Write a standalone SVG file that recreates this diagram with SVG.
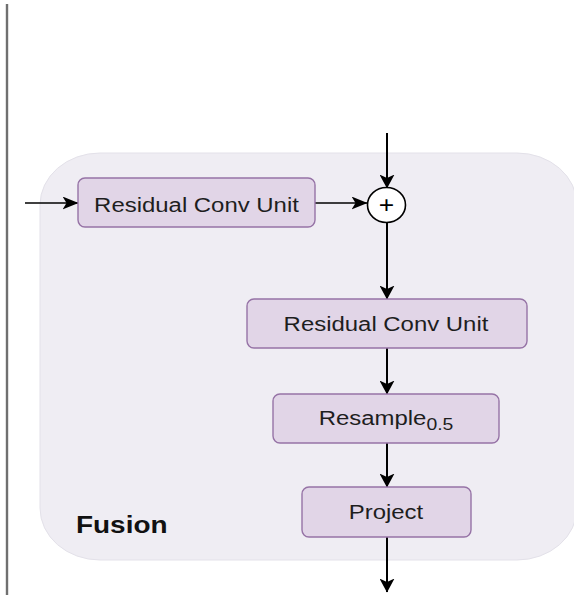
<svg xmlns="http://www.w3.org/2000/svg" width="574" height="597" viewBox="0 0 574 597">
  <style>
    .box { fill: #e1d5e7; stroke: #9673a6; stroke-width: 1.4; }
    .lbl { font-family: "Liberation Sans", Arial, sans-serif; font-size: 21px; fill: #1e1e1e; text-anchor: middle; }
    .eh { stroke: #000; stroke-width: 1.6; fill: none; marker-end: url(#arrowH); }
    .ev { stroke: #000; stroke-width: 2; fill: none; marker-end: url(#arrowV); }
  </style>
  <defs>
    <!-- classic notched arrowheads; horizontal ones a little longer -->
    <marker id="arrowH" viewBox="0 0 16 13" refX="15.5" refY="6.5" markerWidth="16" markerHeight="13" markerUnits="userSpaceOnUse" orient="auto">
      <path d="M0,0 L16,6.5 L0,13 L4,6.5 Z" fill="#000"/>
    </marker>
    <marker id="arrowV" viewBox="0 0 14 15" refX="13.5" refY="7.5" markerWidth="14" markerHeight="15" markerUnits="userSpaceOnUse" orient="auto">
      <path d="M0,0 L14,7.5 L0,15 L3.5,7.5 Z" fill="#000"/>
    </marker>
  </defs>
  <rect width="574" height="597" fill="#ffffff"/>
  <!-- divider on the left -->
  <line x1="7" y1="4" x2="7" y2="595" stroke="#707070" stroke-width="2.4"/>
  <!-- fusion block panel -->
  <g id="fusion">
    <rect x="40" y="153" width="537" height="407" rx="60" ry="52" fill="#efedf3" stroke="#e3e1e9" stroke-width="1"/>
    <text transform="translate(76,533) scale(1.14,1)" font-family="Liberation Sans, Arial, sans-serif" font-size="24.5" font-weight="bold" fill="#111">Fusion</text>
  </g>
  <g id="connectors">
    <line class="eh" x1="25" y1="203" x2="78" y2="203"/>
    <line class="eh" x1="315" y1="203" x2="367" y2="203"/>
    <line class="ev" x1="387" y1="133" x2="387" y2="188"/>
    <line class="ev" x1="387" y1="223" x2="387" y2="299"/>
    <line class="ev" x1="387" y1="348" x2="387" y2="394"/>
    <line class="ev" x1="387" y1="443" x2="387" y2="487"/>
    <line class="ev" x1="387" y1="537" x2="387" y2="592"/>
  </g>
  <g id="rcu1">
    <rect class="box" x="78" y="178" width="237" height="49" rx="7"/>
    <text class="lbl" transform="translate(196.5,211.5) scale(1.14,1)">Residual Conv Unit</text>
  </g>
  <g id="sum">
    <ellipse cx="386.5" cy="205" rx="19" ry="17.5" fill="#fff" stroke="#000" stroke-width="1.6"/>
    <text transform="translate(386.5,213) scale(1.1,1)" font-family="Liberation Sans, Arial, sans-serif" font-size="24" text-anchor="middle" fill="#000">+</text>
  </g>
  <g id="rcu2">
    <rect class="box" x="247" y="299" width="280" height="49" rx="7"/>
    <text class="lbl" transform="translate(386,331) scale(1.14,1)">Residual Conv Unit</text>
  </g>
  <g id="resample">
    <rect class="box" x="273" y="394" width="226" height="49" rx="7"/>
    <text class="lbl" transform="translate(386,424.5) scale(1.14,1)">Resample<tspan font-size="17" dy="5">0.5</tspan></text>
  </g>
  <g id="project">
    <rect class="box" x="302" y="487" width="169" height="50" rx="7"/>
    <text class="lbl" transform="translate(386,518.5) scale(1.14,1)">Project</text>
  </g>
</svg>
